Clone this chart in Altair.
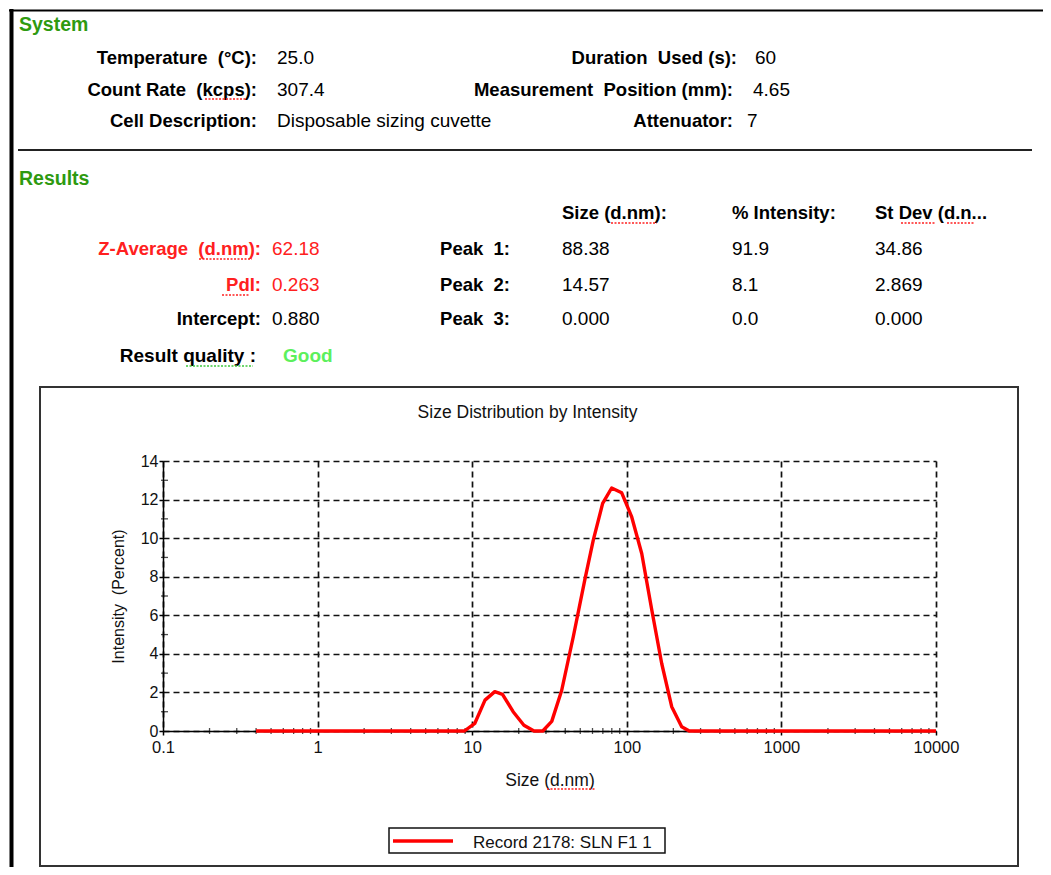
import altair as alt
import pandas as pd

# ---------------- data ----------------
sizes = [0.4, 8.9, 10.4, 12.1, 14.0, 15.7, 18.4, 21.6, 25.1, 28.6, 32.7, 37.9, 45.1,
         53.7, 60.7, 69.8, 79.8, 92.7, 107.6, 124.9, 144.9, 168.2, 195.2, 226.5, 253.6, 10000]
intensity = [0, 0, 0.4, 1.6, 2.04, 1.9, 1.0, 0.3, 0, 0, 0.5, 2.1, 4.9,
             7.9, 9.9, 11.8, 12.6, 12.35, 11.1, 9.2, 6.3, 3.5, 1.26, 0.22, 0, 0]
series_name = "Record 2178: SLN F1 1"

x_ticks = [0.1, 1, 10, 100, 1000, 10000]
x_minor = [0.2, 0.3, 0.4, 0.5, 0.6, 0.7, 0.8, 0.9,
           2, 3, 4, 5, 6, 7, 8, 9,
           20, 30, 40, 50, 60, 70, 80, 90,
           200, 300, 400, 500, 600, 700, 800, 900,
           2000, 3000, 4000, 5000, 6000, 7000, 8000, 9000]
y_ticks = [0, 2, 4, 6, 8, 10, 12, 14]
y_minor = [1, 3, 5, 7, 9, 11, 13]

sys_labels_left = ["Temperature\u00a0 (°C):", "Count Rate\u00a0 (kcps):", "Cell Description:"]
sys_values_left = ["25.0", "307.4", "Disposable sizing cuvette"]
sys_labels_right = ["Duration\u00a0 Used (s):", "Measurement\u00a0 Position (mm):", "Attenuator:"]
sys_values_right = ["60", "4.65", "7"]
res_labels = ["Z-Average\u00a0 (d.nm):", "PdI:", "Intercept:"]
res_values = ["62.18", "0.263", "0.880"]
peak_labels = ["Peak\u00a0 1:", "Peak\u00a0 2:", "Peak\u00a0 3:"]
col_headers = ["Size (d.nm):", "% Intensity:", "St Dev (d.n..."]
peak_size = ["88.38", "14.57", "0.000"]
peak_int = ["91.9", "8.1", "0.0"]
peak_sd = ["34.86", "2.869", "0.000"]
quality_label = "Result quality :"
quality_value = "Good"
chart_title = "Size Distribution by Intensity"
x_title = "Size (d.nm)"
y_title = "Intensity\u00a0 (Percent)"

# ---------------- layout ----------------
FONT = "Liberation Sans, Arial, sans-serif"
OX, OY = 163, 461          # page position of plot origin
W, H = 773, 270
GREEN = "#2e9a10"
RED = "#ff2020"

one = pd.DataFrame({"k": [0]})


def px(x):
    return x - OX


def py(y):
    return y - OY


def txt(s, x, y, size, weight="normal", color="#000", align="left"):
    return alt.Chart(pd.DataFrame({"t": [s]})).mark_text(
        align=align, baseline="alphabetic", fontSize=size, fontWeight=weight,
        color=color, font=FONT
    ).encode(x=alt.value(px(x)), y=alt.value(py(y)), text="t:N")


def hline(x1, x2, y, color="#000", width=2.0, dash=None):
    kw = dict(color=color, strokeWidth=width)
    if dash:
        kw["strokeDash"] = dash
    return alt.Chart(one).mark_rule(**kw).encode(
        x=alt.value(px(x1)), x2=alt.value(px(x2)), y=alt.value(py(y)))


def vline(x, y1, y2, color="#000", width=2.0):
    return alt.Chart(one).mark_rule(color=color, strokeWidth=width).encode(
        x=alt.value(px(x)), y=alt.value(py(y1)), y2=alt.value(py(y2)))


def box(x1, y1, x2, y2, stroke="#333", width=2.0, fill="white", fill_opacity=0.0):
    return alt.Chart(one).mark_rect(stroke=stroke, strokeWidth=width, fill=fill,
                                    fillOpacity=fill_opacity).encode(
        x=alt.value(px(x1)), x2=alt.value(px(x2)), y=alt.value(py(y1)), y2=alt.value(py(y2)))


xscale = alt.Scale(type="log", domain=[0.1, 10000], nice=False)
yscale = alt.Scale(domain=[0, 14], nice=False)

x_axis = alt.Axis(values=x_ticks, format="~g", title=x_title, grid=True,
                  gridDash=[6, 4], gridColor="#111", gridWidth=1.7, gridOpacity=1,
                  labelFlush=False, labelOverlap=False, tickSize=4, tickWidth=1.5,
                  tickColor="#000", domainColor="#000", domainWidth=1.5,
                  labelPadding=4, labelFont=FONT, labelFontSize=16.5, labelColor="#111",
                  titleFont=FONT, titleFontSize=17.5, titleFontWeight="normal",
                  titleColor="#111", titleX=W / 2, titleY=54, titleAlign="center",
                  titleBaseline="alphabetic")
y_axis = alt.Axis(values=y_ticks, format="d", title=y_title, grid=True,
                  gridDash=[6, 4], gridColor="#111", gridWidth=1.7, gridOpacity=1,
                  labelOverlap=False, labelFlush=False, tickSize=4, tickWidth=1.5,
                  tickColor="#000", domainColor="#000", domainWidth=1.5, labelPadding=1,
                  labelFont=FONT, labelFontSize=16, labelColor="#111",
                  titleFont=FONT, titleFontSize=16, titleFontWeight="normal",
                  titleColor="#111", titleAngle=270, titleX=-45, titleY=H / 2,
                  titleAlign="center", titleBaseline="middle")

# curve
curve_df = pd.DataFrame({"size": sizes, "pct": intensity})
curve = alt.Chart(curve_df).mark_line(color="#ff0000", strokeWidth=3.4, strokeJoin="round").encode(
    x=alt.X("size:Q", scale=xscale, axis=x_axis, title=x_title),
    y=alt.Y("pct:Q", scale=yscale, axis=y_axis, title=y_title),
)

# minor ticks (same axis definitions so the shared axes merge cleanly)
x_minor_layer = alt.Chart(pd.DataFrame({"size": x_minor})).mark_tick(
    color="#000", size=6, thickness=1.3).encode(
    x=alt.X("size:Q", scale=xscale, axis=x_axis, title=x_title),
    y=alt.value(H))
y_minor_layer = alt.Chart(pd.DataFrame({"pct": y_minor})).mark_tick(
    color="#000", size=7, thickness=1.3).encode(
    y=alt.Y("pct:Q", scale=yscale, axis=y_axis, title=y_title),
    x=alt.value(1.5))

layers = []

# page borders
layers.append(hline(9, 1043, 10.5, "#000", 2))
layers.append(vline(11.5, 9, 867, "#000", 4))
layers.append(hline(18, 1032, 150, "#222", 2))

# System section
LB, LV = 257, 277
RB = [737, 733, 733]
RV = [755, 753, 747]
rows_sys = [64, 96, 127]
layers.append(txt("System", 19, 31, 19.5, "bold", GREEN))
for i in range(3):
    layers.append(txt(sys_labels_left[i], LB, rows_sys[i], 18.5, "bold", "#000", "right"))
    layers.append(txt(sys_values_left[i], LV, rows_sys[i], 19, "normal", "#000"))
    layers.append(txt(sys_labels_right[i], RB[i], rows_sys[i], 18.5, "bold", "#000", "right"))
    layers.append(txt(sys_values_right[i], RV[i], rows_sys[i], 19, "normal", "#000"))

# Results section
layers.append(txt("Results", 19, 185, 19.5, "bold", GREEN))
COLS = [562, 732, 875]
for j in range(3):
    layers.append(txt(col_headers[j], COLS[j], 219, 18.5, "bold", "#000"))
rows_res = [255, 291, 325]
res_colors = [RED, RED, "#000"]
for i in range(3):
    layers.append(txt(res_labels[i], 261, rows_res[i], 18.5, "bold", res_colors[i], "right"))
    layers.append(txt(res_values[i], 272, rows_res[i], 19, "normal", res_colors[i]))
    layers.append(txt(peak_labels[i], 510, rows_res[i], 18.5, "bold", "#000", "right"))
    layers.append(txt(peak_size[i], COLS[0], rows_res[i], 19, "normal", "#000"))
    layers.append(txt(peak_int[i], COLS[1], rows_res[i], 19, "normal", "#000"))
    layers.append(txt(peak_sd[i], COLS[2], rows_res[i], 19, "normal", "#000"))
layers.append(txt(quality_label, 256, 362, 19, "bold", "#000", "right"))
layers.append(txt(quality_value, 283, 362, 19, "bold", "#5cf05c"))

# spell-check style dotted underlines
DOT = [2, 1.5]
for (x1, x2, y, c) in [(205, 246, 99, RED), (199, 252, 259, RED), (222, 249, 295, RED),
                       (611, 657, 223, RED), (901, 935, 223, RED), (947, 975, 223, RED),
                       (186, 253, 366, "#3cc83c"), (547, 595, 789, RED)]:
    layers.append(hline(x1, x2, y, c, 1.5, DOT))

# chart frame and title
layers.append(box(40, 387, 1018, 866, "#333", 2))
layers.append(txt(chart_title, 527.5, 418, 17.5, "normal", "#111", "center"))

# legend (drawn)
layers.append(box(389, 828, 665, 853, "#111", 1.5, "white", 1.0))
layers.append(hline(393, 453, 841, "#ff0000", 3.5))
layers.append(txt(series_name, 473, 848, 17, "normal", "#111"))

chart = alt.layer(x_minor_layer, y_minor_layer, curve, *layers).properties(
    width=W, height=H,
    autosize=alt.AutoSizeParams(type="none"),
    padding={"left": OX - 8, "top": OY - 8, "right": 1043 - OX - W, "bottom": 867 - OY - H},
    background="white",
).configure_view(strokeWidth=0)

chart.save("out.html", embed_options={"renderer": "svg", "actions": False})
